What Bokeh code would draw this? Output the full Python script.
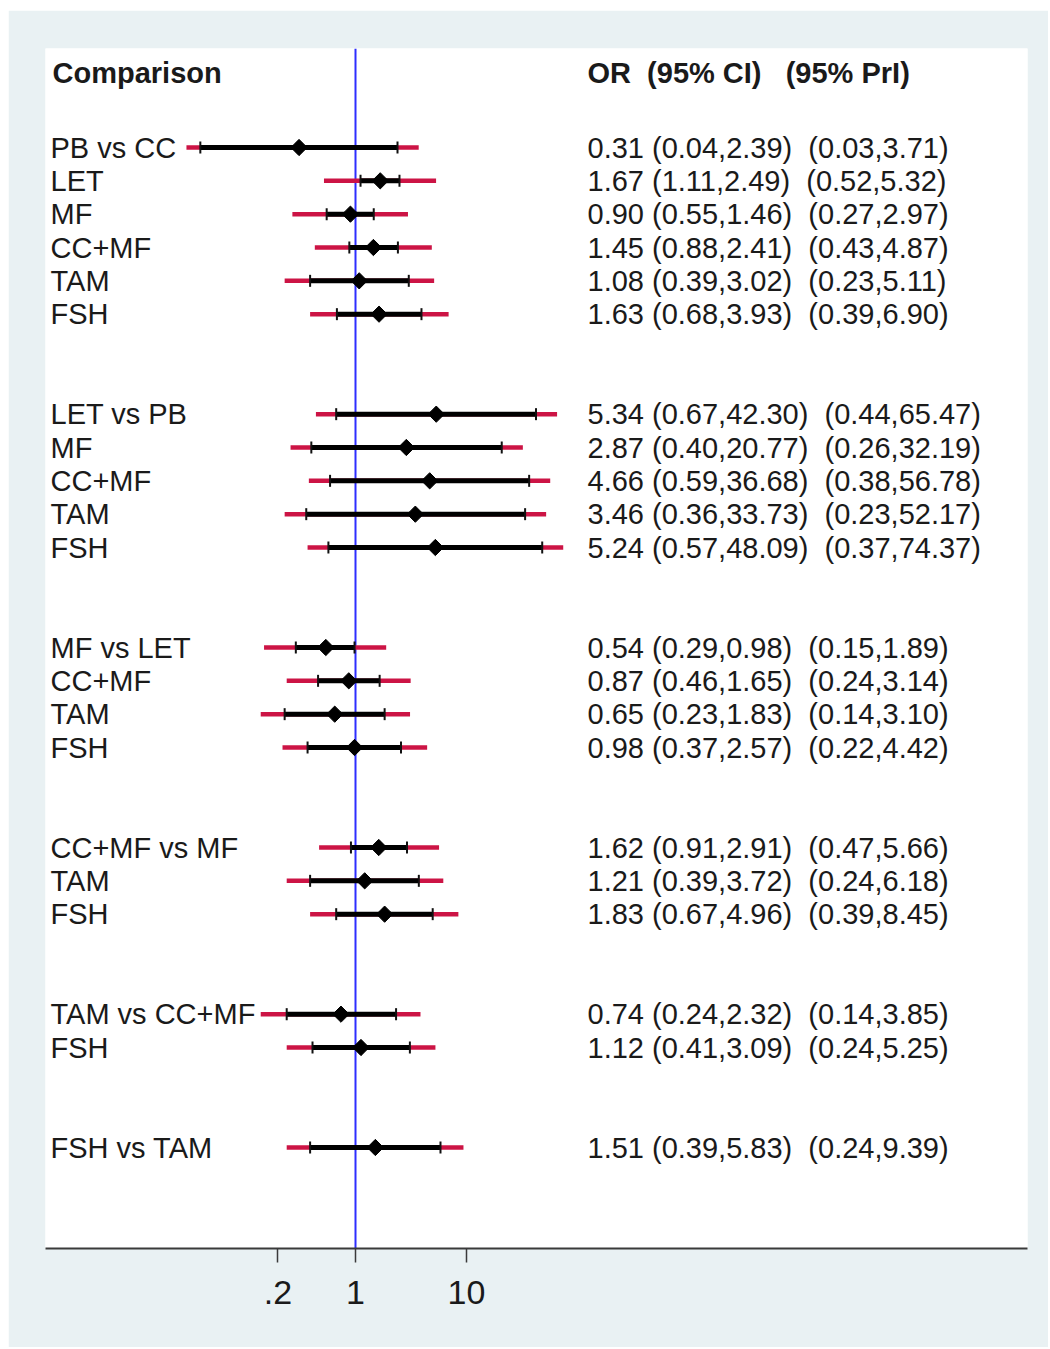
import numpy as np
from bokeh.plotting import figure
from bokeh.models import ColumnDataSource, Range1d, FixedTicker, Span
from bokeh.core.properties import value
from bokeh.embed import file_html
from bokeh.resources import INLINE

# ---------------- data ----------------
group_refs = ["CC", "PB", "LET", "MF", "CC+MF", "TAM"]
group_treats = [
    ["PB", "LET", "MF", "CC+MF", "TAM", "FSH"],
    ["LET", "MF", "CC+MF", "TAM", "FSH"],
    ["MF", "CC+MF", "TAM", "FSH"],
    ["CC+MF", "TAM", "FSH"],
    ["TAM", "FSH"],
    ["FSH"],
]
odds_ratio = [0.31, 1.67, 0.90, 1.45, 1.08, 1.63,
              5.34, 2.87, 4.66, 3.46, 5.24,
              0.54, 0.87, 0.65, 0.98,
              1.62, 1.21, 1.83,
              0.74, 1.12,
              1.51]
ci_low = [0.04, 1.11, 0.55, 0.88, 0.39, 0.68,
          0.67, 0.40, 0.59, 0.36, 0.57,
          0.29, 0.46, 0.23, 0.37,
          0.91, 0.39, 0.67,
          0.24, 0.41,
          0.39]
ci_high = [2.39, 2.49, 1.46, 2.41, 3.02, 3.93,
           42.30, 20.77, 36.68, 33.73, 48.09,
           0.98, 1.65, 1.83, 2.57,
           2.91, 3.72, 4.96,
           2.32, 3.09,
           5.83]
pri_low = [0.03, 0.52, 0.27, 0.43, 0.23, 0.39,
           0.44, 0.26, 0.38, 0.23, 0.37,
           0.15, 0.24, 0.14, 0.22,
           0.47, 0.24, 0.39,
           0.14, 0.24,
           0.24]
pri_high = [3.71, 5.32, 2.97, 4.87, 5.11, 6.90,
            65.47, 32.19, 56.78, 52.17, 74.37,
            1.89, 3.14, 3.10, 4.42,
            5.66, 6.18, 8.45,
            3.85, 5.25,
            9.39]
tick_values = [0.2, 1, 10]
tick_labels = [".2", "1", "10"]
header_left = "Comparison"
header_right = "OR  (95% CI)   (95% PrI)"

NB = "\u00a0"  # keep runs of spaces in SVG text

# ---------------- layout helpers ----------------
rows, labels = [], []
r = 0
for ref, treats in zip(group_refs, group_treats):
    for j, t in enumerate(treats):
        rows.append(r)
        labels.append(f"{t} vs {ref}" if j == 0 else t)
        r += 1
    r += 2

texts = [f"{o:.2f} ({a:.2f},{b:.2f})  ({c:.2f},{d:.2f})".replace(" ", NB)
         for o, a, b, c, d in zip(odds_ratio, ci_low, ci_high, pri_low, pri_high)]

src = ColumnDataSource(dict(y=rows, label=labels, txt=texts, orr=odds_ratio,
                            cl=ci_low, ch=ci_high, pl=pri_low, ph=pri_high))

# pixel geometry of the frame: 982 px wide, 111 px per decade, 1 at px 310 from left
PX_DEC = 111.0
X0 = 10 ** (-310 / PX_DEC)
X1 = 10 ** ((982 - 310) / PX_DEC)


def xpx(px):
    # data x at a pixel offset from the frame's left edge
    return 10 ** ((px - 310) / PX_DEC)


FONT = "Liberation Sans"

p = figure(width=1040, height=1337, x_axis_type="log",
           x_range=Range1d(X0, X1), y_range=Range1d(33.03, -2.97),
           output_backend="svg", toolbar_location=None,
           min_border_left=37, min_border_right=21,
           min_border_top=38, min_border_bottom=99)
p.margin = (10, 0, 0, 8)
p.background_fill_color = "white"
p.border_fill_color = "#E9F1F3"
p.outline_line_color = None
p.grid.visible = False
p.yaxis.visible = False

ax = p.xaxis[0]
ax.ticker = FixedTicker(ticks=tick_values)
ax.major_label_overrides = {v: l for v, l in zip(tick_values, tick_labels)}
ax.minor_tick_line_color = None
ax.axis_line_color = "#3a3a3a"
ax.axis_line_width = 2
ax.major_tick_line_color = "#3a3a3a"
ax.major_tick_line_width = 1.5
ax.major_tick_out = 14
ax.major_tick_in = 0
ax.major_label_standoff = 18
ax.major_label_text_font = FONT
ax.major_label_text_font_size = "34px"
ax.major_label_text_color = "#1a1a1a"

p.add_layout(Span(location=1, dimension="height", line_color="#2E2EFF",
                  line_width=2, level="underlay"))

# prediction intervals (red)
p.segment(x0="pl", x1="ph", y0="y", y1="y", source=src,
          line_color="#CC1445", line_width=4.5)
# confidence intervals (black)
p.segment(x0="cl", x1="ch", y0="y", y1="y", source=src,
          line_color="black", line_width=5)
for col in ("cl", "ch"):
    p.scatter(x=col, y="y", source=src, marker="dash", angle=np.pi / 2,
              size=12, line_color="#111111", line_width=2)
p.scatter(x="orr", y="y", source=src, marker="square", angle=np.pi / 4,
          size=11.5, fill_color="black", line_color="black", line_width=1)

# texts
p.text(x=xpx(5), y="y", text="label", source=src, text_font=value(FONT),
       text_font_size=value("29px"), text_baseline="middle", text_align="left",
       text_color="#1a1a1a")
p.text(x=xpx(542), y="y", text="txt", source=src, text_font=value(FONT),
       text_font_size=value("29px"), text_baseline="middle", text_align="left",
       text_color="#1a1a1a")
p.text(x=[xpx(7)], y=[-2.24], text=[header_left], text_font=value(FONT),
       text_font_size=value("29px"), text_font_style="bold",
       text_baseline="middle", text_align="left", text_color="#1a1a1a")
p.text(x=[xpx(542)], y=[-2.24], text=[header_right.replace(" ", NB)],
       text_font=value(FONT), text_font_size=value("29px"),
       text_font_style="bold", text_baseline="middle", text_align="left",
       text_color="#1a1a1a")

open("out.html", "w").write(file_html(p, INLINE))
